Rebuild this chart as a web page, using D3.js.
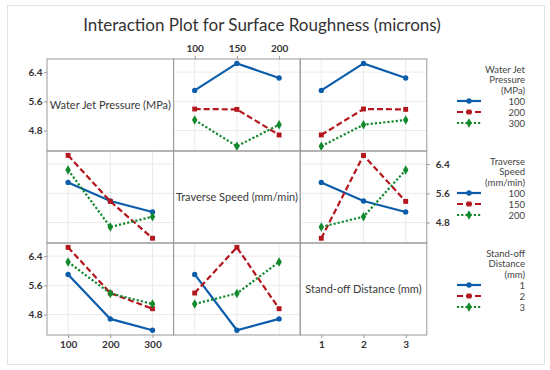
<!DOCTYPE html>
<html>
<head>
  <meta charset="utf-8">
  <title>Interaction Plot for Surface Roughness</title>
  <style>
    body { margin: 0; background: #fff; }
    text { font-family: Lato, "Noto Sans", sans-serif; }
  </style>
</head>
<body>
  <svg width="550" height="370"></svg>
  <script src="https://cdn.jsdelivr.net/npm/d3@7"></script>
  <script>
  // factor names and levels
  var factorNames = ["Water Jet Pressure (MPa)", "Traverse Speed (mm/min)", "Stand-off Distance (mm)"];
  var legendTitles = [["Water Jet", "Pressure", "(MPa)"], ["Traverse", "Speed", "(mm/min)"], ["Stand-off", "Distance", "(mm)"]];
  var wjpLevels = [100, 200, 300];
  var tsLevels = [100, 150, 200];
  var sodLevels = [1, 2, 3];
  var yTicks = [4.8, 5.6, 6.4];

  // L9 runs (level index of each factor) and measured roughness
  var runWjp = [0, 0, 0, 1, 1, 1, 2, 2, 2];
  var runTs  = [0, 1, 2, 0, 1, 2, 0, 1, 2];
  var runSod = [0, 1, 2, 1, 2, 0, 2, 0, 1];
  var roughness = [5.90, 6.64, 6.24, 5.39, 5.38, 4.68, 5.09, 4.37, 4.96];

  var levels = [wjpLevels, tsLevels, sodLevels];
  var runIdx = [runWjp, runTs, runSod];
  var colors = ["#0b5cab", "#b3161c", "#13892e"];
  var dashes = [null, "6,3", "2.2,2"];
  var symbols = [d3.symbolCircle, d3.symbolSquare, d3.symbolDiamond];
  var symSizes = [22, 24, 26];

  var svg = d3.select("svg");
  var gridLeft = 47, gridTop = 59, pw = 126.6, ph = 92;

  // outer frame
  svg.append("rect").attr("x", 7.5).attr("y", 5.5).attr("width", 537).attr("height", 359)
    .attr("fill", "none").attr("stroke", "#e2e2e2");

  svg.append("text").attr("x", 262).attr("y", 31).attr("text-anchor", "middle")
    .attr("font-size", 17).attr("fill", "#333").text("Interaction Plot for Surface Roughness (microns)");

  var y0 = d3.scaleLinear().domain([4.24, 6.76]).range([ph, 0]);

  // mean for line factor r at level i, x factor c at level j
  function cellMean(r, i, c, j) {
    var vals = roughness.filter(function(v, k) { return runIdx[r][k] === i && runIdx[c][k] === j; });
    return d3.mean(vals);
  }

  function styleAxis(a) {
    a.select(".domain").remove();
    a.selectAll("line").attr("stroke", "#999");
    a.selectAll("text").attr("font-size", 10).attr("font-weight", 700).attr("fill", "#333")
      .style("font-family", "Lato, sans-serif");
  }

  for (var r = 0; r < 3; r++) {
    for (var c = 0; c < 3; c++) {
      var g = svg.append("g").attr("transform", "translate(" + (gridLeft + c * pw) + "," + (gridTop + r * ph) + ")");
      var x = d3.scalePoint().domain(levels[c]).range([0, pw]).padding(0.5);

      if (r === c) {
        g.append("text").attr("x", pw / 2).attr("y", ph / 2 + 4).attr("text-anchor", "middle")
          .attr("font-size", 11).attr("fill", "#3a3a3a").text(factorNames[r]);
      } else {
        // grid
        g.selectAll(".gx").data(levels[c]).enter().append("line")
          .attr("x1", function(d) { return x(d); }).attr("x2", function(d) { return x(d); })
          .attr("y1", 0).attr("y2", ph).attr("stroke", "#ebebeb");
        g.selectAll(".gy").data(yTicks).enter().append("line")
          .attr("y1", function(d) { return y0(d); }).attr("y2", function(d) { return y0(d); })
          .attr("x1", 0).attr("x2", pw).attr("stroke", "#ebebeb");

        // series: one line per level of factor r
        for (var i = 0; i < 3; i++) {
          var pts = levels[c].map(function(lv, j) { return { x: lv, y: cellMean(r, i, c, j) }; });
          var line = d3.line().x(function(d) { return x(d.x); }).y(function(d) { return y0(d.y); });
          g.append("path").datum(pts).attr("d", line).attr("fill", "none")
            .attr("stroke", colors[i]).attr("stroke-width", 2.2)
            .attr("stroke-dasharray", dashes[i]);
          g.selectAll(".m" + i).data(pts).enter().append("path")
            .attr("d", d3.symbol().type(symbols[i]).size(symSizes[i]))
            .attr("transform", function(d) { return "translate(" + x(d.x) + "," + y0(d.y) + ")"; })
            .attr("fill", colors[i]);
        }
      }

      g.append("rect").attr("width", pw).attr("height", ph)
        .attr("fill", "none").attr("stroke", "#999");

      // axes on outside edges
      if (r === 0 && c === 1) {
        styleAxis(g.append("g").call(d3.axisTop(x).tickSize(3).tickPadding(4)));
      }
      if (r === 2 && c !== 1) {
        styleAxis(g.append("g").attr("transform", "translate(0," + ph + ")")
          .call(d3.axisBottom(x).tickSize(3).tickPadding(3)));
      }
      if (c === 0 && r !== 1) {
        styleAxis(g.append("g")
          .call(d3.axisLeft(y0).tickValues(yTicks).tickFormat(d3.format(".1f")).tickSize(3).tickPadding(1.5)));
      }
      if (c === 2 && r === 1) {
        styleAxis(g.append("g").attr("transform", "translate(" + pw + ",0)")
          .call(d3.axisRight(y0).tickValues(yTicks).tickFormat(d3.format(".1f")).tickSize(3).tickPadding(6)));
      }
    }

    // legend for row r
    var lg = svg.append("g").attr("transform", "translate(0," + (gridTop + r * ph) + ")");
    lg.selectAll(".lt").data(legendTitles[r]).enter().append("text")
      .attr("x", 525).attr("y", function(d, k) { return 13.5 + k * 10.8; })
      .attr("text-anchor", "end").attr("font-size", 9.5).attr("fill", "#444").text(function(d) { return d; });
    for (var i = 0; i < 3; i++) {
      var yy = 42 + i * 11;
      lg.append("line").attr("x1", 457).attr("x2", 481).attr("y1", yy).attr("y2", yy)
        .attr("stroke", colors[i]).attr("stroke-width", 2.2).attr("stroke-dasharray", dashes[i]);
      lg.append("path").attr("d", d3.symbol().type(symbols[i]).size(symSizes[i]))
        .attr("transform", "translate(469," + yy + ")").attr("fill", colors[i]);
      lg.append("text").attr("x", 525).attr("y", yy + 3.5).attr("text-anchor", "end")
        .attr("font-size", 9.5).attr("fill", "#444").text(levels[r][i]);
    }
  }
  </script>
</body>
</html>
